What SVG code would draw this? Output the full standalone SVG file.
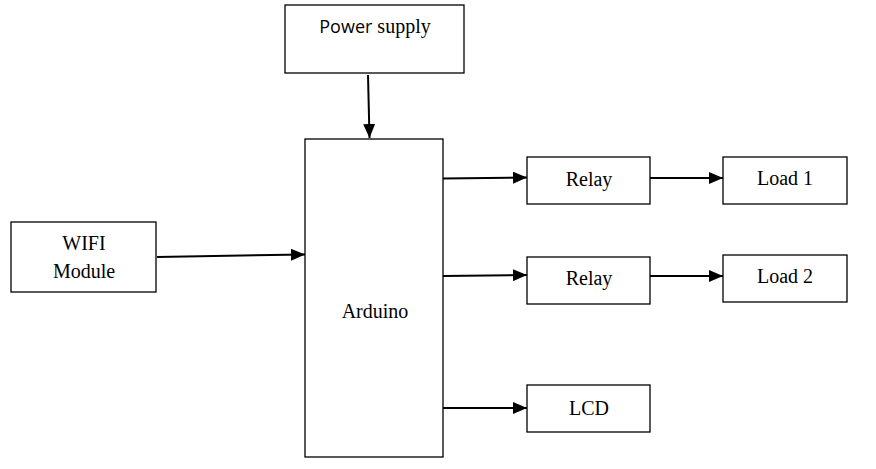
<svg xmlns="http://www.w3.org/2000/svg" width="876" height="469" viewBox="0 0 876 469">
<style>
.box{fill:#fff;stroke:#000;stroke-width:1.3}
.t{font-family:'Liberation Serif','Times New Roman',serif;font-size:20px;fill:#000;text-anchor:middle}
.s{font-family:'Open Sans','Liberation Sans',sans-serif;font-size:18px}
.c{stroke:#000;stroke-width:2;fill:none;marker-end:url(#ah)}
</style>
<defs>
<marker id="ah" markerWidth="7" markerHeight="6" refX="7" refY="3" orient="auto" markerUnits="strokeWidth">
<path d="M0,0 L7,3 L0,6 z" fill="#000"/>
</marker>
</defs>
<rect width="876" height="469" fill="#fff"/>
<g id="power"><rect class="box" x="285" y="5" width="179" height="68"/><text class="t" x="375" y="33"><tspan class="s">Power</tspan> supply</text></g>
<g id="arduino"><rect class="box" x="305" y="139" width="138" height="318"/><text class="t" x="375" y="318">Arduino</text></g>
<g id="wifi"><rect class="box" x="11" y="222" width="145" height="70"/><text class="t" x="84" y="250">WIFI</text><text class="t" x="84" y="278">Module</text></g>
<g id="relay1"><rect class="box" x="527" y="157" width="123" height="47"/><text class="t" x="589" y="186">Relay</text></g>
<g id="load1"><rect class="box" x="723" y="157" width="124" height="47"/><text class="t" x="785" y="185">Load 1</text></g>
<g id="relay2"><rect class="box" x="527" y="257" width="123" height="47"/><text class="t" x="589" y="285">Relay</text></g>
<g id="load2"><rect class="box" x="723" y="255" width="124" height="47"/><text class="t" x="785" y="283">Load 2</text></g>
<g id="lcd"><rect class="box" x="527" y="385" width="123" height="47"/><text class="t" x="589" y="415">LCD</text></g>
<g id="connectors">
<line class="c" x1="368" y1="75" x2="369.5" y2="138"/>
<line class="c" x1="157" y1="257" x2="305" y2="254.5"/>
<line class="c" x1="443" y1="178.5" x2="527" y2="177.5"/>
<line class="c" x1="443" y1="276" x2="527" y2="275"/>
<line class="c" x1="443" y1="408" x2="527" y2="408"/>
<line class="c" x1="650" y1="178" x2="723" y2="178"/>
<line class="c" x1="650" y1="276" x2="723" y2="276"/>
</g>
</svg>
